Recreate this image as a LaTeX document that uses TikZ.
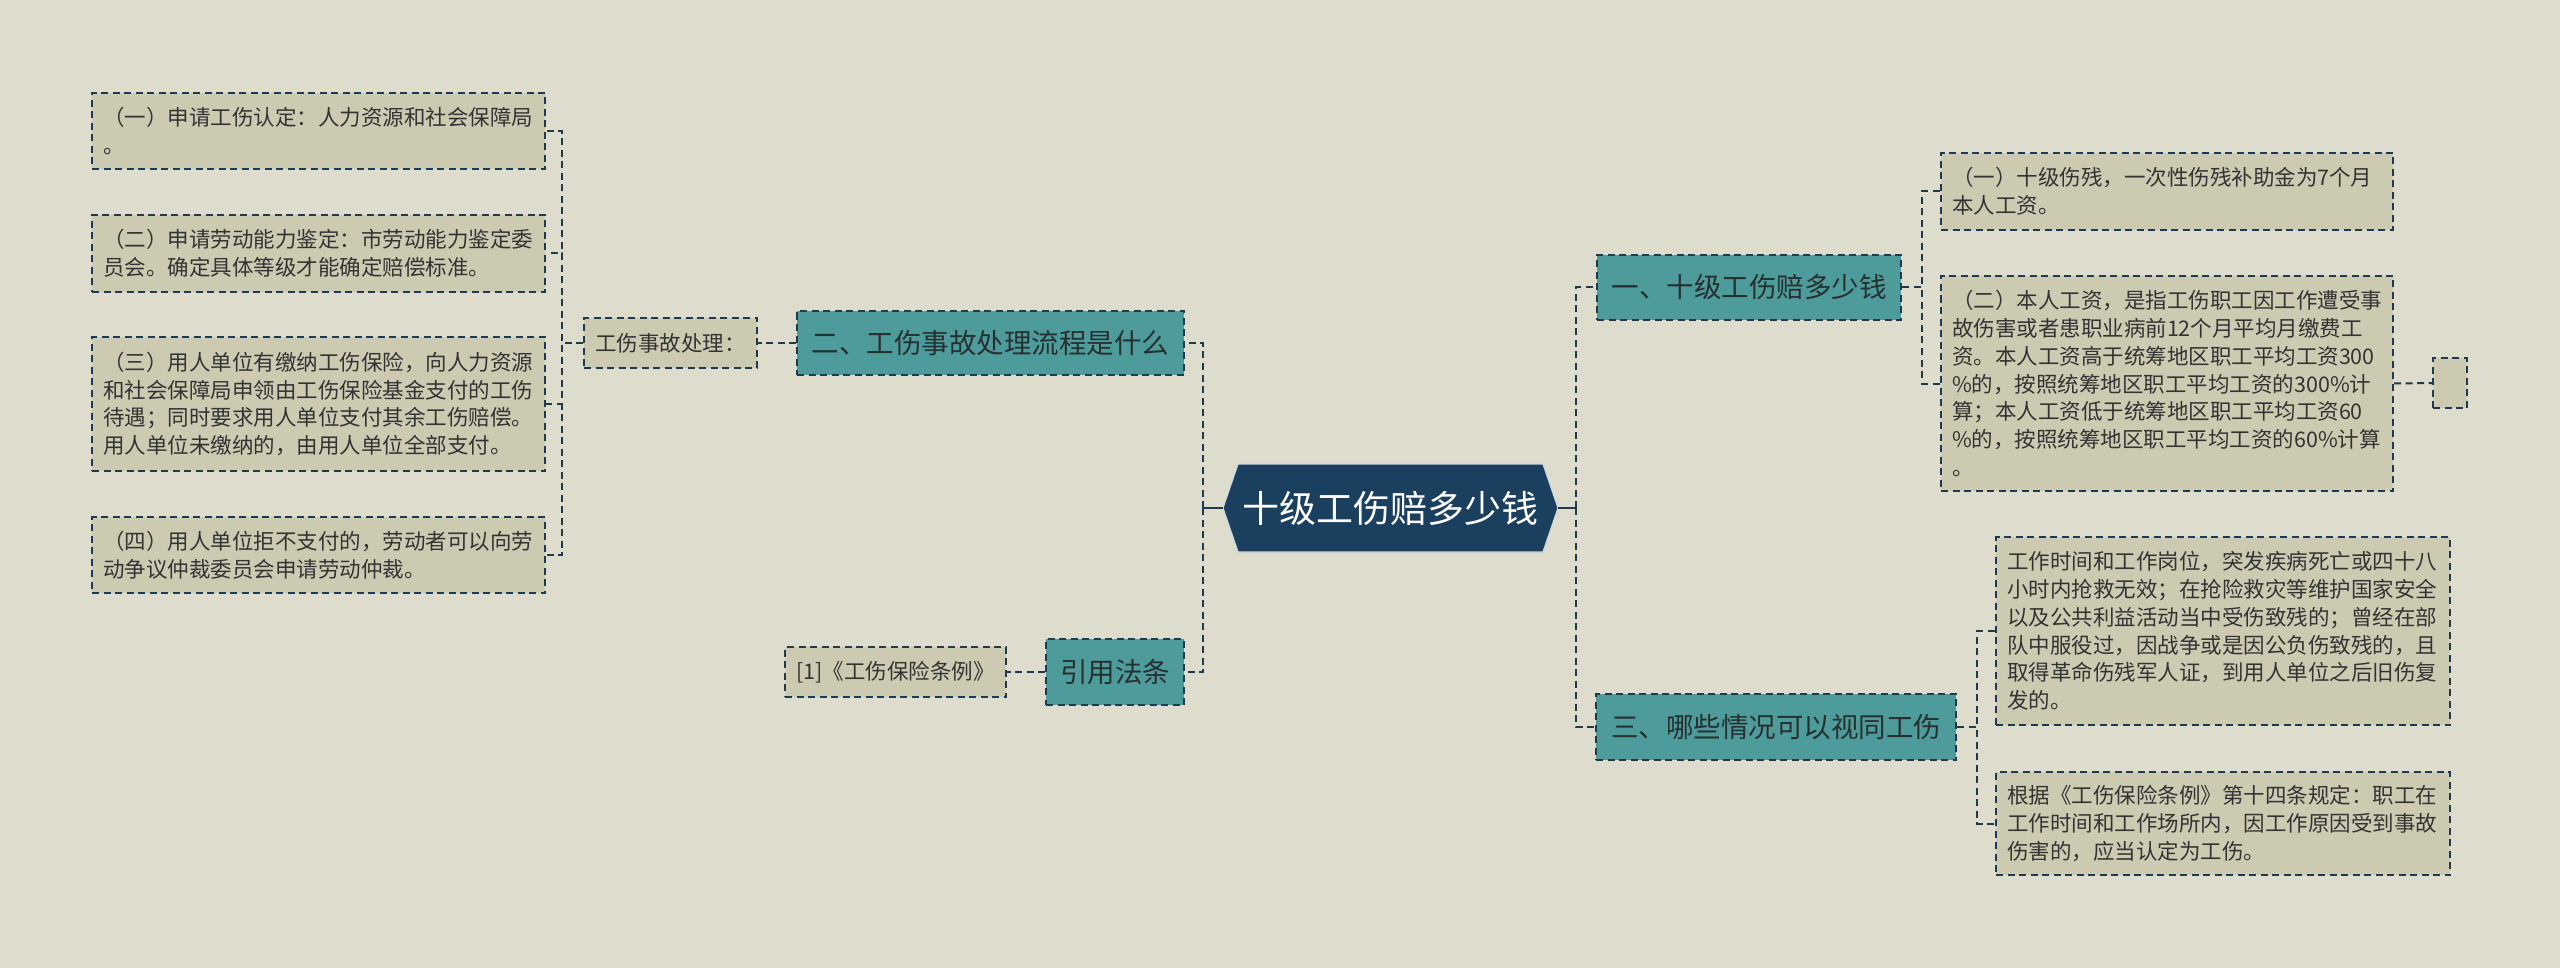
\documentclass[tikz,border=0pt]{standalone}
\usepackage{fontspec}
\setmainfont{Noto Sans CJK SC}
\definecolor{bgc}{HTML}{DEDCCC}
\definecolor{leafc}{HTML}{CDCAB2}
\definecolor{tealc}{HTML}{4D9B9B}
\definecolor{navyc}{HTML}{1B3F5E}
\definecolor{linec}{HTML}{1E3A50}
\definecolor{txtc}{HTML}{333333}
\definecolor{txtb}{HTML}{26302F}
\begin{document}
\begin{tikzpicture}[x=1pt,y=-1pt,
  conn/.style={draw=linec, line width=2pt, dash pattern=on 7pt off 4.5pt},
  solidconn/.style={draw=linec, line width=2.6pt},
  boxline/.style={draw=linec, line width=2pt, dash pattern=on 7pt off 4.5pt},
  leaf/.style={boxline, fill=leafc, text=txtc, align=left, inner xsep=11pt, inner ysep=0pt,
    font=\fontsize{21.5}{27.7}\selectfont},
  smallleaf/.style={boxline, fill=leafc, text=txtc, align=center, inner sep=0pt,
    font=\fontsize{21.5}{27.7}\selectfont},
  topic/.style={boxline, fill=tealc, text=txtb, align=center, inner sep=0pt,
    font=\fontsize{27.5}{33}\selectfont},
]
\fill[bgc] (0,0) rectangle (2560,968);
\useasboundingbox (0,0) rectangle (2560,968);

% central hexagon
\filldraw[fill=navyc, draw=white!80!navyc, line width=1.2pt]
  (1238,464) -- (1543,464) -- (1558,508) -- (1543,552) -- (1238,552) -- (1223,508) -- cycle;
\node[text=white, inner sep=0pt, minimum width=305pt, minimum height=88pt,
  font=\fontsize{37}{40}\selectfont] (c) at (1390.5,508) {十级工伤赔多少钱};
\coordinate (cL) at (1223,508);
\coordinate (cR) at (1558,508);
\coordinate (jL) at (1203,508);
\coordinate (jR) at (1576,508);

% level 1
\node[topic, minimum width=304pt, minimum height=65pt] (R1) at (1749,287.5) {一、十级工伤赔多少钱};
\node[topic, minimum width=360pt, minimum height=66pt] (R3) at (1776,727) {三、哪些情况可以视同工伤};
\node[topic, minimum width=387pt, minimum height=64pt] (L2) at (990.5,343) {二、工伤事故处理流程是什么};
\node[topic, minimum width=138pt, minimum height=66pt] (L3) at (1115,672) {引用法条};

% left leaves
\node[smallleaf, minimum width=173pt, minimum height=50pt] (Lk) at (670.5,343) {工伤事故处理：};
\node[smallleaf, minimum width=221pt, minimum height=50pt] (Lref) at (895.5,672) {[1]《工伤保险条例》};
\node[leaf, text width=431pt, minimum height=76pt] (LB1) at (318.5,131)
  {（一）申请工伤认定：人力资源和社会保障局\\。};
\node[leaf, text width=431pt, minimum height=77pt] (LB2) at (318.5,253.5)
  {（二）申请劳动能力鉴定：市劳动能力鉴定委\\员会。确定具体等级才能确定赔偿标准。};
\node[leaf, text width=431pt, minimum height=134pt] (LB3) at (318.5,404)
  {（三）用人单位有缴纳工伤保险，向人力资源\\和社会保障局申领由工伤保险基金支付的工伤\\待遇；同时要求用人单位支付其余工伤赔偿。\\用人单位未缴纳的，由用人单位全部支付。};
\node[leaf, text width=431pt, minimum height=76pt] (LB4) at (318.5,555)
  {（四）用人单位拒不支付的，劳动者可以向劳\\动争议仲裁委员会申请劳动仲裁。};

% right leaves
\node[leaf, text width=430pt, minimum height=77pt] (R1a) at (2167,191.5)
  {（一）十级伤残，一次性伤残补助金为7个月\\本人工资。};
\node[leaf, text width=430pt, minimum height=215pt] (R1b) at (2167,383.5)
  {（二）本人工资，是指工伤职工因工作遭受事\\故伤害或者患职业病前12个月平均月缴费工\\资。本人工资高于统筹地区职工平均工资300\\\%的，按照统筹地区职工平均工资的300\%计\\算；本人工资低于统筹地区职工平均工资60\\\%的，按照统筹地区职工平均工资的60\%计算\\。};
\node[smallleaf, minimum width=34pt, minimum height=50pt] (E) at (2450,383) {};
\node[leaf, text width=432pt, minimum height=188pt] (R3a) at (2223,631)
  {工作时间和工作岗位，突发疾病死亡或四十八\\小时内抢救无效；在抢险救灾等维护国家安全\\以及公共利益活动当中受伤致残的；曾经在部\\队中服役过，因战争或是因公负伤致残的，且\\取得革命伤残军人证，到用人单位之后旧伤复\\发的。};
\node[leaf, text width=432pt, minimum height=103pt] (R3b) at (2223,823.5)
  {根据《工伤保险条例》第十四条规定：职工在\\工作时间和工作场所内，因工作原因受到事故\\伤害的，应当认定为工伤。};

% connectors from center
\draw[solidconn] (cL) -- (jL);
\draw[solidconn] (cR) -- (jR);
\draw[conn] (jL) |- (L2.east);
\draw[conn] (jL) |- (L3.east);
\draw[conn] (jR) |- (R1.west);
\draw[conn] (jR) |- (R3.west);

% left subtree
\draw[conn] (L2.west) -- (Lk.east);
\draw[conn] (L3.west) -- (Lref.east);
\draw[conn] (Lk.west) -- ++(-21,0) |- (LB1.east);
\draw[conn] (Lk.west) -- ++(-21,0) |- (LB2.east);
\draw[conn] (Lk.west) -- ++(-21,0) |- (LB3.east);
\draw[conn] (Lk.west) -- ++(-21,0) |- (LB4.east);

% right subtree
\draw[conn] (R1.east) -- ++(20,0) |- (R1a.west);
\draw[conn] (R1.east) -- ++(20,0) |- (R1b.west);
\draw[conn] (R1b.east) -- (E.west);
\draw[conn] (R3.east) -- ++(20,0) |- (R3a.west);
\draw[conn] (R3.east) -- ++(20,0) |- (R3b.west);
\end{tikzpicture}
\end{document}
